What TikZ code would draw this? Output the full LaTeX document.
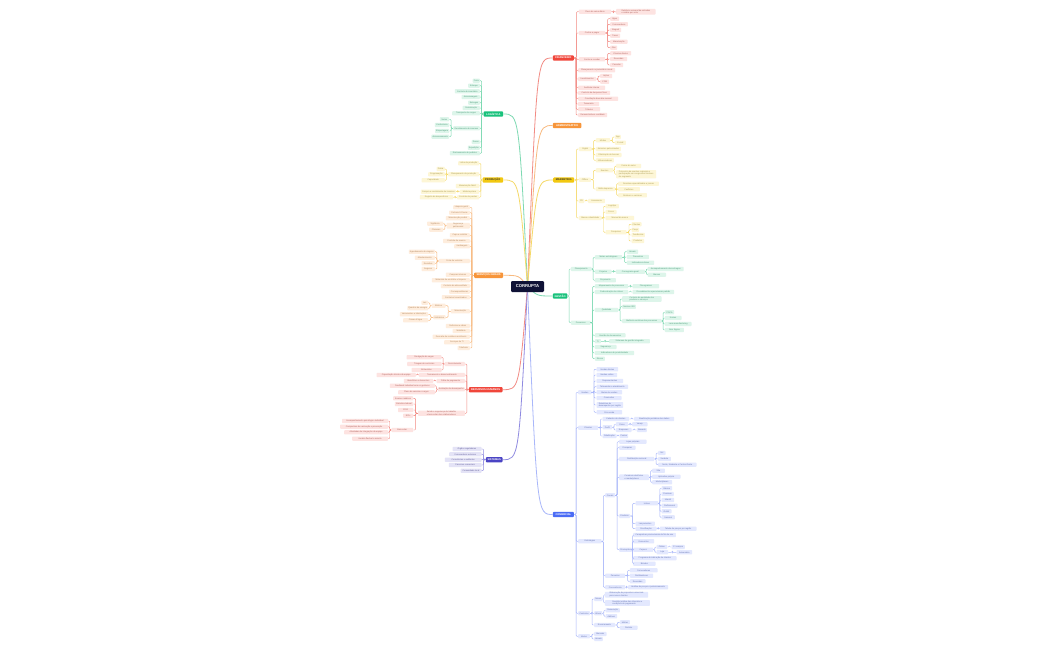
\documentclass[tikz,border=0pt]{standalone}
\usepackage{fontspec}
\setmainfont{Liberation Sans}
\usetikzlibrary{calc,backgrounds}

\definecolor{navy}{HTML}{0F1236}
\definecolor{redtop}{HTML}{F0463B}
\definecolor{redln}{HTML}{F28B84}
\definecolor{redbg}{HTML}{FDE3E1}
\definecolor{orgtop}{HTML}{F7953A}
\definecolor{orgln}{HTML}{F8BA80}
\definecolor{orgbg}{HTML}{FEEDDD}
\definecolor{yeltop}{HTML}{F2C810}
\definecolor{yelln}{HTML}{F5D968}
\definecolor{yelbg}{HTML}{FDF6D6}
\definecolor{grntop}{HTML}{19C27C}
\definecolor{grnln}{HTML}{7DD9B2}
\definecolor{grnbg}{HTML}{DDF5EA}
\definecolor{blutop}{HTML}{4B6CF5}
\definecolor{bluln}{HTML}{A9B7FA}
\definecolor{blubg}{HTML}{E3E8FE}
\definecolor{purtop}{HTML}{4A44C4}
\definecolor{purln}{HTML}{8F8AE0}
\definecolor{purbg}{HTML}{E4E3F6}

% elbow connectors from a parent to its children
\newcommand{\kidsR}[2]{\foreach \kid in {#2} {\draw (#1.east) -| ($(#1.east)!.5!(\kid.west)$) |- (\kid.west);}}
\newcommand{\kidsL}[2]{\foreach \kid in {#2} {\draw (#1.west) -| ($(#1.west)!.5!(\kid.east)$) |- (\kid.east);}}

\tikzset{
  leaf/.style={rounded corners=0.7pt, inner xsep=1.1pt, inner ysep=0.6pt, minimum height=4.2pt,
    align=left, font=\fontsize{2.1}{2.5}\selectfont},
  mw/.style={minimum width=#1},
  rgt/.style={anchor=west},
  lft/.style={anchor=east},
  topic/.style={rounded corners=1pt, inner sep=0.8pt, minimum height=5.4pt, text=white,
    font=\fontsize{2.6}{3}\selectfont\bfseries},
  fin/.style={leaf, fill=redbg, text=redtop!45!gray},
  org/.style={leaf, fill=orgbg, text=orgtop!45!gray},
  yel/.style={leaf, fill=yelbg, text=yeltop!40!gray},
  grn/.style={leaf, fill=grnbg, text=grntop!45!gray},
  blu/.style={leaf, fill=blubg, text=blutop!45!gray},
  pur/.style={leaf, fill=purbg, text=purtop!45!gray},
  ln/.style={line width=0.45pt, rounded corners=1pt},
  trunk/.style={line width=0.8pt},
}

\begin{document}
\begin{tikzpicture}[x=1pt,y=-1pt]
\useasboundingbox (0,0) rectangle (1050,650);

\node[rounded corners=1.2pt, fill=navy, text=white, minimum width=33, minimum height=11,
  font=\fontsize{4.2}{5}\selectfont\bfseries] (corrupta) at (527.5,286.5) {CORRUPTA};

% main topics
\node[topic, rgt, fill=redtop, mw=21] (fin) at (552.7,58) {FINANCEIRO};
\node[topic, rgt, fill=orgtop, mw=28.5] (adm) at (552.7,125.5) {ADMINISTRATIVO};
\node[topic, rgt, fill=yeltop, text=black!80, mw=21] (mkt) at (553,180) {MARKETING};
\node[topic, rgt, fill=grntop, mw=14.5] (ges) at (552.7,296) {GESTÃO};
\node[topic, rgt, fill=blutop, mw=21] (com) at (552.7,514.5) {COMERCIAL};
\node[topic, lft, fill=grntop, mw=19.5] (log) at (503.3,114) {LOGÍSTICA};
\node[topic, lft, fill=yeltop, text=black!80, mw=20.6] (pro) at (503.3,180) {PRODUÇÃO};
\node[topic, lft, fill=orgtop, mw=29] (ser) at (503.3,275.3) {SERVIÇOS GERAIS};
\node[topic, lft, fill=redtop, mw=33.7] (rh) at (502.7,389.7) {RECURSOS HUMANOS};
\node[topic, lft, fill=purtop, mw=16.7] (sis) at (502.7,459.7) {SISTEMAS};

% financeiro
\node[fin,rgt,mw=32.3] (f1) at (578.7,11.7) {Fluxo de caixa diário};
\node[fin,rgt,mw=39.3] (f1a) at (616,11.8) {Relatório semanal de entradas\\e saídas por setor};
\node[fin,rgt,mw=26.3] (f2) at (578.7,33) {Contas a pagar};
\node[fin,rgt,mw=9] (f2a) at (610,18.7) {Água};
\node[fin,rgt,mw=17.7] (f2b) at (610,24.3) {Fornecedores};
\node[fin,rgt,mw=11] (f2c) at (610,30) {Aluguel};
\node[fin,rgt,mw=10] (f2d) at (610,35.7) {Taxas};
\node[fin,rgt,mw=17.3] (f2e) at (610,41.7) {Manutenção};
\node[fin,rgt,mw=7] (f2f) at (610,47.7) {Gás};
\node[fin,rgt,mw=26.3] (f3) at (578.7,59.3) {Contas a receber};
\node[fin,rgt,mw=21] (f3a) at (610,53.3) {Clientes diretos};
\node[fin,rgt,mw=17] (f3b) at (610,59) {Revendas};
\node[fin,rgt,mw=13] (f3c) at (610,65) {Parcelas};
\node[fin,rgt,mw=37] (f4) at (578,70.3) {Planejamento orçamentário anual};
\node[fin,rgt,mw=18] (f5) at (578,79) {Investimentos};
\node[fin,rgt,mw=12] (f5a) at (600,76) {Ações};
\node[fin,rgt,mw=9] (f5b) at (600,81.7) {CDB};
\node[fin,rgt,mw=27] (f6) at (578,87.7) {Auditoria interna};
\node[fin,rgt,mw=32] (f7) at (578,93) {Controle de despesas fixas};
\node[fin,rgt,mw=40] (f8) at (578,98.7) {Conciliação bancária mensal};
\node[fin,rgt,mw=21] (f9) at (578,104) {Tesouraria};
\node[fin,rgt,mw=22] (f10) at (578,109.3) {Tributos};
\node[fin,rgt,mw=29] (f11) at (578,115) {Demonstrativos contábeis};

% marketing
\node[yel,rgt,mw=12.6] (m1) at (578.7,149) {Digital};
\node[yel,rgt,mw=14.3] (m1a) at (595.7,140.3) {Mídias};
\node[yel,rgt,mw=5.3] (m1a1) at (614.7,137) {App};
\node[yel,rgt,mw=11] (m1a2) at (614.7,142.7) {E-mail};
\node[yel,rgt,mw=25] (m1b) at (595.7,149) {Anúncios patrocinados};
\node[yel,rgt,mw=25.6] (m1c) at (595.7,155) {Otimização de buscas};
\node[yel,rgt,mw=18] (m1d) at (595.7,160.3) {Influenciadores};
\node[yel,rgt,mw=12] (m2) at (578.7,179.7) {Offline};
\node[yel,rgt,mw=17.3] (m2a) at (595.7,170.3) {Eventos};
\node[yel,rgt,mw=25] (m2a1) at (616,166) {Feiras do setor};
\node[yel,rgt,mw=40] (m2a2) at (616,174.3) {Patrocínio de eventos regionais e\\participação em congressos técnicos\\do segmento};
\node[yel,rgt,mw=19] (m2b) at (595.7,189) {Mídia impressa};
\node[yel,rgt,mw=40.7] (m2b1) at (618,183.7) {Revistas especializadas e jornais};
\node[yel,rgt,mw=21.7] (m2b2) at (618,189.3) {Panfletos};
\node[yel,rgt,mw=28.7] (m2b3) at (618,195.3) {Outdoors e cartazes};
\node[yel,rgt,mw=5.3] (m3) at (578.7,201) {PR};
\node[yel,rgt,mw=16.7] (m3a) at (588,201) {Assessoria};
\node[yel,rgt,mw=22.6] (m4) at (578.7,218) {Marca e identidade};
\node[yel,rgt,mw=13.4] (m4a) at (605.3,206.3) {Logotipo};
\node[yel,rgt,mw=11] (m4b) at (605.3,212) {Cores};
\node[yel,rgt,mw=28.7] (m4c) at (605.3,218) {Manual da marca};
\node[yel,rgt,mw=21] (m4d) at (605.3,232.3) {Pesquisas};
\node[yel,rgt,mw=10] (m4d1) at (631.3,224.3) {Clientes};
\node[yel,rgt,mw=7.4] (m4d2) at (631.3,229.7) {Preço};
\node[yel,rgt,mw=13.4] (m4d3) at (631.3,235) {Tendências};
\node[yel,rgt,mw=12.7] (m4d4) at (631.3,241) {Produtos};

% gestao
\node[grn,rgt,mw=20.6] (g1) at (570.7,269) {Planejamento};
\node[grn,rgt,mw=27.3] (g1a) at (594.7,257.3) {Metas estratégicas};
\node[grn,rgt,mw=11.3] (g1a1) at (626.7,251.7) {Anuais};
\node[grn,rgt,mw=22] (g1a2) at (626.7,257) {Trimestrais};
\node[grn,rgt,mw=27.3] (g1a3) at (626.7,262.7) {Indicadores-chave};
\node[grn,rgt,mw=16.6] (g1b) at (594.7,271.7) {Projetos};
\node[grn,rgt,mw=29] (g1b1) at (615.7,271.7) {Cronograma geral};
\node[grn,rgt,mw=36] (g1b1a) at (647.5,269) {Acompanhamento das entregas};
\node[grn,rgt,mw=18.3] (g1b1b) at (647.5,274.7) {Marcos};
\node[grn,rgt,mw=21] (g1c) at (594.7,280.3) {Orçamento};
\node[grn,rgt,mw=19.6] (g2) at (570.7,322.7) {Processos};
\node[grn,rgt,mw=33.3] (g2a) at (594.7,286.3) {Mapeamento de processos};
\node[grn,rgt,mw=26.7] (g2a1) at (632.3,286.3) {Fluxogramas};
\node[grn,rgt,mw=33.3] (g2b) at (594.7,292) {Padronização de rotinas};
\node[grn,rgt,mw=41.7] (g2b1) at (632.3,292) {Procedimentos operacionais padrão};
\node[grn,rgt,mw=23.3] (g2c) at (594.7,310) {Qualidade};
\node[grn,rgt,mw=39.3] (g2c1) at (622,299) {Controle de qualidade dos\\produtos e serviços};
\node[grn,rgt,mw=13.3] (g2c2) at (622,306.7) {Normas ISO};
\node[grn,rgt,mw=39.3] (g2c3) at (622,321) {Melhoria contínua dos processos};
\node[grn,rgt,mw=9.3] (g2c3a) at (664.7,312.3) {PDCA};
\node[grn,rgt,mw=16.6] (g2c3b) at (664.7,318) {Kaizen};
\node[grn,rgt,mw=26.6] (g2c3c) at (664.7,324) {Lean manufacturing};
\node[grn,rgt,mw=19] (g2c3d) at (664.7,330) {Seis Sigma};
\node[grn,rgt,mw=30.6] (g2d) at (594.7,335.3) {Gestão de documentos};
\node[grn,rgt,mw=6] (g2e) at (594.7,341.3) {TI};
\node[grn,rgt,mw=40.7] (g2e1) at (609,341.3) {Sistemas de gestão integrada};
\node[grn,rgt,mw=21.6] (g2f) at (594.7,347) {Segurança};
\node[grn,rgt,mw=39.3] (g2g) at (594.7,353) {Indicadores de produtividade};
\node[grn,rgt,mw=10] (g2h) at (594.7,358.7) {Riscos};

% comercial
\node[blu,rgt,mw=13.3] (c1) at (578,392.3) {Vendas};
\node[blu,rgt,mw=21.7] (c1a) at (596.3,369.3) {Vendas diretas};
\node[blu,rgt,mw=20.7] (c1b) at (596.3,375) {Vendas online};
\node[blu,rgt,mw=26.7] (c1c) at (596.3,381) {Representantes};
\node[blu,rgt,mw=31.7] (c1d) at (596.3,386.7) {Televendas e atendimento};
\node[blu,rgt,mw=25.7] (c1e) at (596.3,392.3) {Metas de vendas};
\node[blu,rgt,mw=25] (c1f) at (596.3,398) {Comissões};
\node[blu,rgt,mw=26.7] (c1g) at (596.3,405) {Relatórios de\\desempenho por região};
\node[blu,rgt,mw=25.7] (c1h) at (596.3,412.3) {Pós-venda};
\node[blu,rgt,mw=20] (c2) at (578,427.7) {Clientes};
\node[blu,rgt,mw=26.7] (c2a) at (602.3,419) {Cadastro de clientes};
\node[blu,rgt,mw=40] (c2a1) at (634,419) {Atualização periódica dos dados};
\node[blu,rgt,mw=9.7] (c2b) at (602.3,427.3) {Perfil};
\node[blu,rgt,mw=12.3] (c2b1) at (615.7,424.3) {Físico};
\node[blu,rgt,mw=15.3] (c2b1a) at (632,424.3) {Varejo};
\node[blu,rgt,mw=15.6] (c2b2) at (615.7,430) {Empresas};
\node[blu,rgt,mw=8.6] (c2b2a) at (636.7,430) {Atacado};
\node[blu,rgt,mw=14] (c2c) at (602.3,436) {Fidelização};
\node[blu,rgt,mw=8.7] (c2c1) at (619.3,436) {Pontos};
\node[blu,rgt,mw=23.3] (c3) at (578,541.3) {Estratégias};
\node[blu,rgt,mw=10] (c3a) at (605,495.3) {Canais};
\node[blu,rgt,mw=27.3] (c3a1) at (619,441.7) {Lojas próprias};
\node[blu,rgt,mw=16.3] (c3a2) at (619,447.7) {Franquias};
\node[blu,rgt,mw=35] (c3a3) at (619,459) {Distribuição nacional};
\node[blu,rgt,mw=7.3] (c3a3a) at (658,453) {Sul};
\node[blu,rgt,mw=12.7] (c3a3b) at (658,459) {Sudeste};
\node[blu,rgt,mw=38.3] (c3a3c) at (658,464.7) {Norte, Nordeste e Centro-Oeste};
\node[blu,rgt,mw=29.7] (c3a4) at (619,477.3) {Comércio eletrônico\\e marketplaces};
\node[blu,rgt,mw=12.7] (c3a4a) at (652,470.7) {Site};
\node[blu,rgt,mw=28.3] (c3a4b) at (652,476.7) {Aplicativo próprio};
\node[blu,rgt,mw=20] (c3a4c) at (652,482.3) {Marketplaces};
\node[blu,rgt,mw=10.7] (c3a5) at (619,516) {Produtos};
\node[blu,rgt,mw=22.7] (c3a5a) at (635.3,503.3) {Linhas};
\node[blu,rgt,mw=10.7] (c3a5a1) at (661.3,488.3) {Básica};
\node[blu,rgt,mw=12.3] (c3a5a2) at (661.3,494) {Premium};
\node[blu,rgt,mw=12.7] (c3a5a3) at (661.3,500) {Infantil};
\node[blu,rgt,mw=16] (c3a5a4) at (661.3,505.7) {Profissional};
\node[blu,rgt,mw=10] (c3a5a5) at (661.3,511.3) {Outlet};
\node[blu,rgt,mw=13.3] (c3a5a6) at (661.3,517.3) {Sazonal};
\node[blu,rgt,mw=19.3] (c3a5b) at (635.3,523.7) {Lançamentos};
\node[blu,rgt,mw=21] (c3a5c) at (635.3,528.7) {Precificação};
\node[blu,rgt,mw=36.6] (c3a5c1) at (659.7,528.7) {Tabela de preços por região};
\node[blu,rgt,mw=10.7] (c3a6) at (619,549.7) {Promoções};
\node[blu,rgt,mw=42.7] (c3a6a) at (633,535) {Campanhas promocionais de fim de ano};
\node[blu,rgt,mw=21] (c3a6b) at (633,541.3) {Descontos};
\node[blu,rgt,mw=20] (c3a6c) at (633,549.7) {Cupons};
\node[blu,rgt,mw=10.7] (c3a6c1) at (656.3,547) {Online};
\node[blu,rgt,mw=13.3] (c3a6c1a) at (671.3,547) {1ª compra};
\node[blu,rgt,mw=11.7] (c3a6c2) at (656.3,552.3) {Loja};
\node[blu,rgt,mw=15.7] (c3a6c2a) at (676.3,552.3) {Aniversário};
\node[blu,rgt,mw=43.3] (c3a6d) at (633,558.3) {Programa de indicação de clientes};
\node[blu,rgt,mw=22.3] (c3a6e) at (633,563.7) {Brindes};
\node[blu,rgt,mw=20] (c3b) at (605,575.7) {Parcerias};
\node[blu,rgt,mw=27.7] (c3b1) at (629.7,570.3) {Fornecedores};
\node[blu,rgt,mw=23.3] (c3b2) at (629.7,575.7) {Distribuidores};
\node[blu,rgt,mw=15.6] (c3b3) at (629.7,581.3) {Revendas};
\node[blu,rgt,mw=20] (c3c) at (605,587.3) {Concorrência};
\node[blu,rgt,mw=40] (c3c1) at (628,587.3) {Análise de preços e posicionamento};
\node[blu,rgt,mw=11.7] (c4) at (578,613.3) {Contratos};
\node[blu,rgt,mw=6.7] (c4a) at (594,599) {Novos};
\node[blu,rgt,mw=43.3] (c4a1) at (604.7,594.7) {Elaboração de propostas comerciais\\para novos clientes};
\node[blu,rgt,mw=45] (c4a2) at (604.7,603) {Revisão jurídica das cláusulas e\\condições de pagamento};
\node[blu,rgt,mw=8] (c4b) at (594,613.3) {Ativos};
\node[blu,rgt,mw=14.3] (c4b1) at (605.3,610.3) {Renovação};
\node[blu,rgt,mw=11.7] (c4b2) at (605.3,616.3) {Aditivos};
\node[blu,rgt,mw=20.7] (c4c) at (594,625) {Encerramento};
\node[blu,rgt,mw=10] (c4c1) at (619.7,622.3) {Multas};
\node[blu,rgt,mw=17.7] (c4c2) at (619.7,627.7) {Distrato};
\node[blu,rgt,mw=11.7] (c5) at (578,636.3) {Metas};
\node[blu,rgt,mw=12.3] (c5a) at (594,634) {Mensais};
\node[blu,rgt,mw=5.7] (c5b) at (594,639) {Anuais};

% logistica
\node[grn,lft,mw=6.7] (l1) at (480,80.7) {Frota};
\node[grn,lft,mw=11.7] (l2) at (480,85.7) {Estoque};
\node[grn,lft,mw=25] (l3) at (480,91.3) {Controle de inventário};
\node[grn,lft,mw=18.3] (l4) at (480,97) {Armazenagem};
\node[grn,lft,mw=11.7] (l5) at (480,102.7) {Entregas};
\node[grn,lft,mw=17.3] (l6) at (480,108) {Roteirização};
\node[grn,lft,mw=27.7] (l7) at (480,113.3) {Transporte de cargas};
\node[grn,lft,mw=26.7] (l8) at (480,128.3) {Recebimento de insumos};
\node[grn,lft,mw=9.3] (l8a) at (449.3,119.3) {Notas};
\node[grn,lft,mw=14.3] (l8b) at (449.3,125) {Conferência};
\node[grn,lft,mw=12.7] (l8c) at (449.3,131) {Etiquetagem};
\node[grn,lft,mw=16] (l8d) at (449.3,136.7) {Armazenamento};
\node[grn,lft,mw=6.7] (l9) at (480,142) {Docas};
\node[grn,lft,mw=11] (l10) at (480,147.7) {Expedição};
\node[grn,lft,mw=30] (l11) at (480,153.3) {Rastreamento de pedidos};

% producao
\node[yel,lft,mw=21] (p1) at (479.3,163.3) {Linha de produção};
\node[yel,lft,mw=31] (p2) at (479.3,174.3) {Planejamento da produção};
\node[yel,lft,mw=8.3] (p2a) at (445,169) {Diária};
\node[yel,lft,mw=16.7] (p2b) at (445,174.3) {Programação};
\node[yel,lft,mw=23.3] (p2c) at (445,180.3) {Capacidade};
\node[yel,lft,mw=23.3] (p3) at (479.3,186) {Manutenção fabril};
\node[yel,lft,mw=19.3] (p4) at (479.3,191.7) {Matéria-prima};
\node[yel,lft,mw=34.3] (p4a) at (456,191.7) {Compra e recebimento de insumos};
\node[yel,lft,mw=22] (p5) at (479.3,197.3) {Controle de perdas};
\node[yel,lft,mw=33.3] (p5a) at (453.3,197.3) {Registro de desperdícios};

% servicos gerais
\node[org,lft,mw=16.7] (s1) at (470,207.3) {Limpeza geral};
\node[org,lft,mw=20.7] (s2) at (470,212.7) {Portaria 24 horas};
\node[org,lft,mw=24] (s3) at (470,218.3) {Manutenção predial};
\node[org,lft,mw=23.3] (s4) at (470,225.7) {Segurança\\patrimonial};
\node[org,lft,mw=16] (s4a) at (443.3,223.7) {Vigilância};
\node[org,lft,mw=14] (s4b) at (443.3,229.7) {Câmeras};
\node[org,lft,mw=20] (s5) at (470,235.3) {Copa e cozinha};
\node[org,lft,mw=26.7] (s6) at (470,241) {Controle de acesso};
\node[org,lft,mw=15.7] (s7) at (470,246.3) {Jardinagem};
\node[org,lft,mw=30.7] (s8) at (470,261) {Frota de veículos};
\node[org,lft,mw=25] (s8a) at (435,251.7) {Agendamento de viagens};
\node[org,lft,mw=20] (s8b) at (435,257.7) {Abastecimento};
\node[org,lft,mw=13.3] (s8c) at (435,263.3) {Revisões};
\node[org,lft,mw=13.3] (s8d) at (435,269) {Seguros};
\node[org,lft,mw=24] (s9) at (470,274.7) {Compras internas};
\node[org,lft,mw=38] (s10) at (470,280.3) {Materiais de escritório e limpeza};
\node[org,lft,mw=29] (s11) at (470,286) {Controle de almoxarifado};
\node[org,lft,mw=20.7] (s12) at (470,291.7) {Correspondências};
\node[org,lft,mw=28] (s13) at (470,297.3) {Contratos terceirizados};
\node[org,lft,mw=19] (s14) at (470,311.3) {Manutenção};
\node[org,lft,mw=14] (s14a) at (445.7,305.7) {Elétrica};
\node[org,lft,mw=6.7] (s14a1) at (428.3,302.7) {Luz};
\node[org,lft,mw=20.7] (s14a2) at (428.3,308.3) {Quadros de energia};
\node[org,lft,mw=12.3] (s14b) at (445.7,317.3) {Hidráulica};
\node[org,lft,mw=28.3] (s14b1) at (428.3,314.3) {Vazamentos e tubulações};
\node[org,lft,mw=25] (s14b2) at (428.3,320.3) {Caixas d’água};
\node[org,lft,mw=24] (s15) at (470,326) {Reformas e obras};
\node[org,lft,mw=17.3] (s16) at (470,331) {Mobiliário};
\node[org,lft,mw=37.3] (s17) at (470,336.7) {Descarte de resíduos recicláveis};
\node[org,lft,mw=25.7] (s18) at (470,342.3) {Serviços de TI};
\node[org,lft,mw=12.3] (s19) at (470,348) {Telefonia};

% recursos humanos
\node[fin,lft,mw=20] (r1) at (465,364) {Recrutamento};
\node[fin,lft,mw=35] (r1a) at (441.7,357.3) {Divulgação de vagas};
\node[fin,lft,mw=34.3] (r1b) at (441.7,364) {Triagem de currículos};
\node[fin,lft,mw=30] (r1c) at (441.7,370) {Entrevistas};
\node[fin,lft,mw=45.7] (r2) at (465,375) {Treinamento e desenvolvimento};
\node[fin,lft,mw=39.3] (r2a) at (416,375) {Capacitação técnica da equipe};
\node[fin,lft,mw=28.3] (r3) at (465,381) {Folha de pagamento};
\node[fin,lft,mw=29.3] (r3a) at (433.3,381) {Benefícios e descontos};
\node[fin,lft,mw=26.7] (r4) at (465,389.3) {Avaliação de desempenho};
\node[fin,lft,mw=45] (r4a) at (435,385.7) {Feedback individual com os gestores};
\node[fin,lft,mw=36.7] (r4b) at (435,392.3) {Plano de carreira e cargos};
\node[fin,lft,mw=46.7] (r5) at (465,413.3) {Saúde e segurança do trabalho\\e bem-estar dos colaboradores};
\node[fin,lft,mw=20] (r5a) at (413.3,398.3) {Exames médicos};
\node[fin,lft,mw=18.3] (r5b) at (413.3,404) {Ginástica laboral};
\node[fin,lft,mw=15] (r5c) at (413.3,410) {CIPA};
\node[fin,lft,mw=10] (r5d) at (413.3,415.7) {EPIs};
\node[fin,lft,mw=21.7] (r5e) at (413.3,430) {Bem-estar};
\node[fin,lft,mw=46] (r5e1) at (388.3,421) {Acompanhamento psicológico individual};
\node[fin,lft,mw=48] (r5e2) at (388.3,426.7) {Campanhas de vacinação e prevenção};
\node[fin,lft,mw=44] (r5e3) at (388.3,432.3) {Atividades de integração da equipe};
\node[fin,lft,mw=36] (r5e4) at (388.3,438.7) {Horário flexível e remoto};

% sistemas
\node[pur,lft,mw=29] (x1) at (481.7,449) {Órgãos reguladores};
\node[pur,lft,mw=32.3] (x2) at (481.7,454.3) {Fornecedores externos};
\node[pur,lft,mw=36.7] (x3) at (481.7,459.7) {Consultorias e auditorias};
\node[pur,lft,mw=32.7] (x4) at (481.7,465) {Parceiros comerciais};
\node[pur,lft,mw=21] (x5) at (481.7,470.7) {Comunidade local};

% connectors
\begin{scope}[ln, color=redln]
  \kidsR{fin}{f1,f2,f3,f4,f5,f6,f7,f8,f9,f10,f11}
  \kidsR{f1}{f1a}
  \kidsR{f2}{f2a,f2b,f2c,f2d,f2e,f2f}
  \kidsR{f3}{f3a,f3b,f3c}
  \kidsR{f5}{f5a,f5b}
  \kidsL{rh}{r1,r2,r3,r4,r5}
  \kidsL{r1}{r1a,r1b,r1c}
  \kidsL{r2}{r2a}
  \kidsL{r3}{r3a}
  \kidsL{r4}{r4a,r4b}
  \kidsL{r5}{r5a,r5b,r5c,r5d,r5e}
  \kidsL{r5e}{r5e1,r5e2,r5e3,r5e4}
\end{scope}
\begin{scope}[ln, color=yelln]
  \kidsR{mkt}{m1,m2,m3,m4}
  \kidsR{m1}{m1a,m1b,m1c,m1d}
  \kidsR{m1a}{m1a1,m1a2}
  \kidsR{m2}{m2a,m2b}
  \kidsR{m2a}{m2a1,m2a2}
  \kidsR{m2b}{m2b1,m2b2,m2b3}
  \kidsR{m3}{m3a}
  \kidsR{m4}{m4a,m4b,m4c,m4d}
  \kidsR{m4d}{m4d1,m4d2,m4d3,m4d4}
  \kidsL{pro}{p1,p2,p3,p4,p5}
  \kidsL{p2}{p2a,p2b,p2c}
  \kidsL{p4}{p4a}
  \kidsL{p5}{p5a}
\end{scope}
\begin{scope}[ln, color=grnln]
  \kidsR{ges}{g1,g2}
  \kidsR{g1}{g1a,g1b,g1c}
  \kidsR{g1a}{g1a1,g1a2,g1a3}
  \kidsR{g1b}{g1b1}
  \kidsR{g1b1}{g1b1a,g1b1b}
  \kidsR{g2}{g2a,g2b,g2c,g2d,g2e,g2f,g2g,g2h}
  \kidsR{g2a}{g2a1}
  \kidsR{g2b}{g2b1}
  \kidsR{g2c}{g2c1,g2c2,g2c3}
  \kidsR{g2c3}{g2c3a,g2c3b,g2c3c,g2c3d}
  \kidsR{g2e}{g2e1}
  \kidsL{log}{l1,l2,l3,l4,l5,l6,l7,l8,l9,l10,l11}
  \kidsL{l8}{l8a,l8b,l8c,l8d}
\end{scope}
\begin{scope}[ln, color=bluln]
  \kidsR{com}{c1,c2,c3,c4,c5}
  \kidsR{c1}{c1a,c1b,c1c,c1d,c1e,c1f,c1g,c1h}
  \kidsR{c2}{c2a,c2b,c2c}
  \kidsR{c2a}{c2a1}
  \kidsR{c2b}{c2b1,c2b2}
  \kidsR{c2b1}{c2b1a}
  \kidsR{c2b2}{c2b2a}
  \kidsR{c2c}{c2c1}
  \kidsR{c3}{c3a,c3b,c3c}
  \kidsR{c3a}{c3a1,c3a2,c3a3,c3a4,c3a5,c3a6}
  \kidsR{c3a3}{c3a3a,c3a3b,c3a3c}
  \kidsR{c3a4}{c3a4a,c3a4b,c3a4c}
  \kidsR{c3a5}{c3a5a,c3a5b,c3a5c}
  \kidsR{c3a5a}{c3a5a1,c3a5a2,c3a5a3,c3a5a4,c3a5a5,c3a5a6}
  \kidsR{c3a5c}{c3a5c1}
  \kidsR{c3a6}{c3a6a,c3a6b,c3a6c,c3a6d,c3a6e}
  \kidsR{c3a6c}{c3a6c1,c3a6c2}
  \kidsR{c3a6c1}{c3a6c1a}
  \kidsR{c3a6c2}{c3a6c2a}
  \kidsR{c3b}{c3b1,c3b2,c3b3}
  \kidsR{c3c}{c3c1}
  \kidsR{c4}{c4a,c4b,c4c}
  \kidsR{c4a}{c4a1,c4a2}
  \kidsR{c4b}{c4b1,c4b2}
  \kidsR{c4c}{c4c1,c4c2}
  \kidsR{c5}{c5a,c5b}
\end{scope}
\begin{scope}[ln, color=orgln]
  \kidsL{ser}{s1,s2,s3,s4,s5,s6,s7,s8,s9,s10,s11,s12,s13,s14,s15,s16,s17,s18,s19}
  \kidsL{s4}{s4a,s4b}
  \kidsL{s8}{s8a,s8b,s8c,s8d}
  \kidsL{s14}{s14a,s14b}
  \kidsL{s14a}{s14a1,s14a2}
  \kidsL{s14b}{s14b1,s14b2}
\end{scope}
\begin{scope}[ln, color=purln]
  \kidsL{sis}{x1,x2,x3,x4,x5}
\end{scope}

% branches from the centre
\begin{pgfonlayer}{background}
  \fill[white] (0,0) rectangle (1050,650);
  \coordinate (rbend) at (537,0);
  \coordinate (lbend) at (519,0);
  \draw[trunk, redln] (corrupta.center) .. controls (fin -| rbend) .. (fin.west);
  \draw[trunk, orgln] (corrupta.center) .. controls (adm -| rbend) .. (adm.west);
  \draw[trunk, yelln] (corrupta.center) .. controls (mkt -| rbend) .. (mkt.west);
  \draw[trunk, grnln] (corrupta.center) .. controls (ges -| rbend) .. (ges.west);
  \draw[trunk, bluln] (corrupta.center) .. controls (com -| rbend) .. (com.west);
  \draw[trunk, grnln] (corrupta.center) .. controls (log -| lbend) .. (log.east);
  \draw[trunk, yelln] (corrupta.center) .. controls (pro -| lbend) .. (pro.east);
  \draw[trunk, orgln] (corrupta.center) .. controls (ser -| lbend) .. (ser.east);
  \draw[trunk, redln] (corrupta.center) .. controls (rh -| lbend) .. (rh.east);
  \draw[trunk, purln] (corrupta.center) .. controls (sis -| lbend) .. (sis.east);
\end{pgfonlayer}
\end{tikzpicture}
\end{document}
